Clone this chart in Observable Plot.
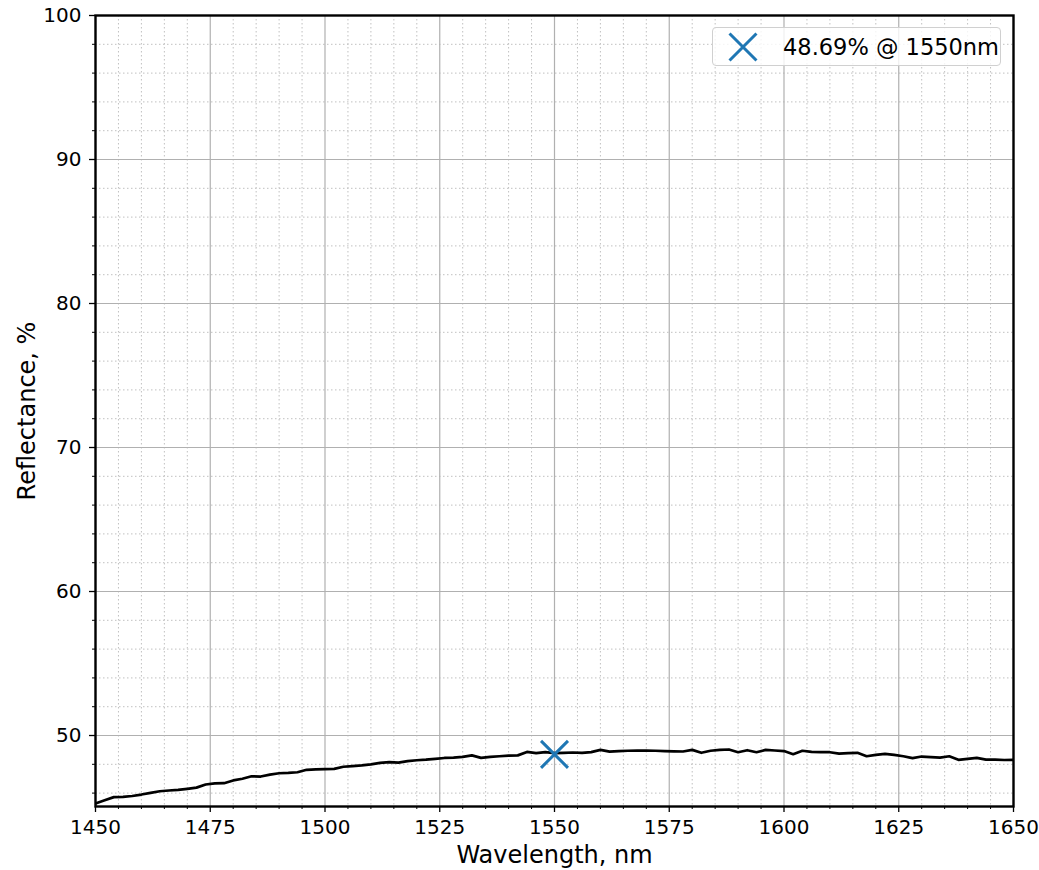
<!DOCTYPE html>
<html>
<head>
<meta charset="utf-8">
<script src="https://cdn.jsdelivr.net/npm/d3@7"></script>
<script src="https://cdn.jsdelivr.net/npm/@observablehq/plot@0.6"></script>
<style>
  body { margin: 0; background: #fff; font-family: "DejaVu Sans", sans-serif; }
  #wrap { position: relative; width: 1039px; height: 870px; }
  #legend {
    position: absolute; left: 712px; top: 27px; width: 287px; height: 37px;
    border: 1px solid #d0d0d0; border-radius: 4px; background: rgba(255,255,255,0.8);
    display: flex; align-items: center; box-sizing: content-box;
  }
  #legend svg { margin-left: 15px; }
  #legend span { margin-left: 25px; font-size: 22.5px; color: #000; white-space: nowrap; }
</style>
</head>
<body>
<div id="wrap"></div>
<script>
// Data
const wavelengths = [1450,1452,1454,1456,1458,1460,1462,1464,1466,1468,1470,1472,1474,1476,1478,1480,1482,1484,1486,1488,1490,1492,1494,1496,1498,1500,1502,1504,1506,1508,1510,1512,1514,1516,1518,1520,1522,1524,1526,1528,1530,1532,1534,1536,1538,1540,1542,1544,1546,1548,1550,1552,1554,1556,1558,1560,1562,1564,1566,1568,1570,1572,1574,1576,1578,1580,1582,1584,1586,1588,1590,1592,1594,1596,1598,1600,1602,1604,1606,1608,1610,1612,1614,1616,1618,1620,1622,1624,1626,1628,1630,1632,1634,1636,1638,1640,1642,1644,1646,1648,1650];
const reflectance = [45.28,45.5,45.72,45.74,45.8,45.9,46.02,46.13,46.18,46.23,46.3,46.38,46.6,46.67,46.69,46.88,47.0,47.17,47.15,47.28,47.38,47.4,47.45,47.62,47.65,47.66,47.68,47.83,47.87,47.92,47.99,48.1,48.15,48.12,48.22,48.28,48.32,48.38,48.44,48.47,48.52,48.62,48.45,48.52,48.56,48.6,48.62,48.86,48.78,48.85,48.78,48.8,48.82,48.8,48.85,49.0,48.88,48.92,48.94,48.95,48.95,48.94,48.92,48.9,48.89,49.0,48.8,48.94,49.0,49.03,48.84,48.98,48.84,49.0,48.96,48.92,48.7,48.94,48.86,48.84,48.84,48.74,48.78,48.8,48.56,48.66,48.73,48.65,48.56,48.43,48.54,48.5,48.47,48.56,48.31,48.38,48.45,48.33,48.32,48.3,48.31];
const markerWavelength = [1550];
const markerReflectance = [48.69];
const legendLabel = "48.69% @ 1550nm";
const xMajorTicks = [1450,1475,1500,1525,1550,1575,1600,1625,1650];
const xMinorTicks = d3.range(1450, 1651, 5).filter(v => v % 25 !== 0);
const yMajorTicks = [50,60,70,80,90,100];
const yMinorTicks = d3.range(46, 100, 2).filter(v => v % 10 !== 0);
const xLabel = ["Wavelength, nm"];
const yLabel = ["Reflectance, %"];

const curve = wavelengths.map((w, i) => ({w, r: reflectance[i]}));
const marker = markerWavelength.map((w, i) => ({w, r: markerReflectance[i]}));

const chart = Plot.plot({
  width: 1039,
  height: 870,
  marginLeft: 95,
  marginRight: 26,
  marginTop: 15,
  marginBottom: 64,
  style: {fontFamily: "DejaVu Sans", background: "#fff", color: "#000"},
  x: {domain: [1450, 1650]},
  y: {domain: [45.07, 100]},
  marks: [
    Plot.ruleX(xMinorTicks, {stroke: "#c0c0c0", strokeWidth: 1, strokeDasharray: "1.5,2.5"}),
    Plot.ruleY(yMinorTicks, {stroke: "#c0c0c0", strokeWidth: 1, strokeDasharray: "1.5,2.5"}),
    Plot.ruleX(xMajorTicks, {stroke: "#b0b0b0", strokeWidth: 1.2}),
    Plot.ruleY(yMajorTicks, {stroke: "#b0b0b0", strokeWidth: 1.2}),
    Plot.axisX({ticks: xMajorTicks, tickSize: 6, tickFormat: () => "", label: null, strokeWidth: 1.3}),
    Plot.axisX({ticks: xMinorTicks, tickSize: 3, tickFormat: () => "", label: null, strokeWidth: 1}),
    Plot.axisY({ticks: yMajorTicks, tickSize: 6, tickFormat: () => "", label: null, strokeWidth: 1.3}),
    Plot.axisY({ticks: yMinorTicks, tickSize: 3, tickFormat: () => "", label: null, strokeWidth: 1}),
    Plot.text(xMajorTicks, {x: d => d, frameAnchor: "bottom", lineAnchor: "middle", dy: 21, fontSize: 20, fill: "#000", text: d => String(d)}),
    Plot.text(yMajorTicks, {y: d => d, frameAnchor: "left", textAnchor: "end", lineAnchor: "middle", dx: -14, fontSize: 20, fill: "#000", text: d => String(d)}),
    Plot.line(curve, {x: "w", y: "r", stroke: "#000", strokeWidth: 2.7, clip: true}),
    Plot.dot(marker, {x: "w", y: "r", symbol: "times", r: 12.3, stroke: "#1f77b4", strokeWidth: 3}),
    Plot.frame({stroke: "#000", strokeWidth: 2.4}),
    Plot.text(xLabel, {frameAnchor: "bottom", lineAnchor: "middle", dy: 49, fontSize: 24, fill: "#000"}),
    Plot.text(yLabel, {frameAnchor: "left", textAnchor: "middle", lineAnchor: "middle", dx: -68, rotate: -90, fontSize: 24, fill: "#000"})
  ]
});

const wrap = document.getElementById("wrap");
wrap.appendChild(chart);

const legend = document.createElement("div");
legend.id = "legend";
const sym = d3.create("svg").attr("width", 30).attr("height", 30);
sym.append("path")
  .attr("d", d3.symbol(d3.symbolTimes, Math.PI * 12.3 * 12.3)())
  .attr("transform", "translate(15,15)")
  .attr("fill", "none").attr("stroke", "#1f77b4").attr("stroke-width", 3);
legend.appendChild(sym.node());
const span = document.createElement("span");
span.textContent = legendLabel;
legend.appendChild(span);
wrap.appendChild(legend);
</script>
</body>
</html>
